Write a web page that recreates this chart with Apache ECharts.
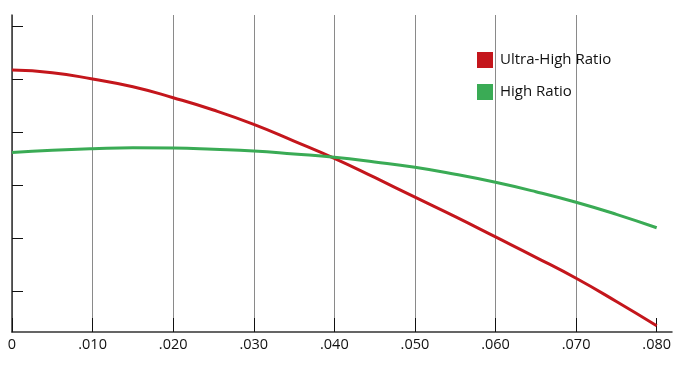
<!DOCTYPE html>
<html>
<head>
<meta charset="utf-8">
<script src="https://cdn.jsdelivr.net/npm/echarts@6/dist/echarts.min.js"></script>
<style>html,body{margin:0;padding:0;background:#fff;}#c{width:689px;height:367px;}</style>
</head>
<body>
<div id="c"></div>
<script>
var xValues = [0, 0.005, 0.01, 0.015, 0.02, 0.025, 0.03, 0.035, 0.04, 0.045, 0.05, 0.055, 0.06, 0.065, 0.07, 0.075, 0.08];
var ultraHigh = [5.170, 5.120, 5.000, 4.855, 4.647, 4.415, 4.145, 3.830, 3.504, 3.142, 2.770, 2.402, 2.020, 1.636, 1.240, 0.802, 0.345];
var highRatio = [3.613, 3.655, 3.685, 3.704, 3.698, 3.674, 3.642, 3.585, 3.523, 3.435, 3.334, 3.202, 3.051, 2.874, 2.675, 2.447, 2.194];
var xTicks = [0, 0.01, 0.02, 0.03, 0.04, 0.05, 0.06, 0.07, 0.08];
var yTicks = [1, 2, 3, 4, 5, 6];
var seriesNames = ['Ultra-High Ratio', 'High Ratio'];

function pairs(ys) { return xValues.map(function (x, i) { return [x, ys[i]]; }); }
function fmt(v) {
  if (v === 0) return '0';
  return '.' + String(Math.round(v * 1000)).padStart(3, '0');
}

var chart = echarts.init(document.getElementById('c'));
chart.setOption({
  animation: false,
  textStyle: { fontFamily: 'Open Sans' },
  grid: { left: 12, right: 17, top: 15, bottom: 35, containLabel: false },
  legend: {
    orient: 'vertical', left: 477, top: 52, padding: 0, itemWidth: 16, itemHeight: 16, itemGap: 16,
    icon: 'rect',
    textStyle: { fontSize: 15, color: '#111', fontFamily: 'Open Sans', padding: [0, 0, 0, 2] },
    data: seriesNames
  },
  xAxis: {
    type: 'value', min: 0, max: 0.0819,
    axisLine: { lineStyle: { color: '#333', width: 1.5 } },
    axisTick: { show: true, inside: true, length: 14, customValues: xTicks, lineStyle: { color: '#111', width: 1 } },
    axisLabel: { customValues: xTicks, formatter: fmt, color: '#111', fontSize: 14.5, margin: 5 },
    splitLine: { show: true, showMaxLine: false, lineStyle: { color: '#8a8a8a', width: 1 } }
  },
  yAxis: {
    type: 'value', min: 0.2264, max: 6.2075,
    axisLine: { show: true, lineStyle: { color: '#333', width: 1.5 } },
    axisTick: { show: true, inside: true, length: 11, customValues: yTicks, lineStyle: { color: '#111', width: 1 } },
    axisLabel: { show: false },
    splitLine: { show: false }
  },
  series: [
    { name: seriesNames[0], type: 'line', smooth: true, symbol: 'none', data: pairs(ultraHigh),
      itemStyle: { color: '#c4161c' }, lineStyle: { color: '#c4161c', width: 3 } },
    { name: seriesNames[1], type: 'line', smooth: true, symbol: 'none', data: pairs(highRatio),
      itemStyle: { color: '#3aab55' }, lineStyle: { color: '#3aab55', width: 3 } }
  ]
});
</script>
</body>
</html>
